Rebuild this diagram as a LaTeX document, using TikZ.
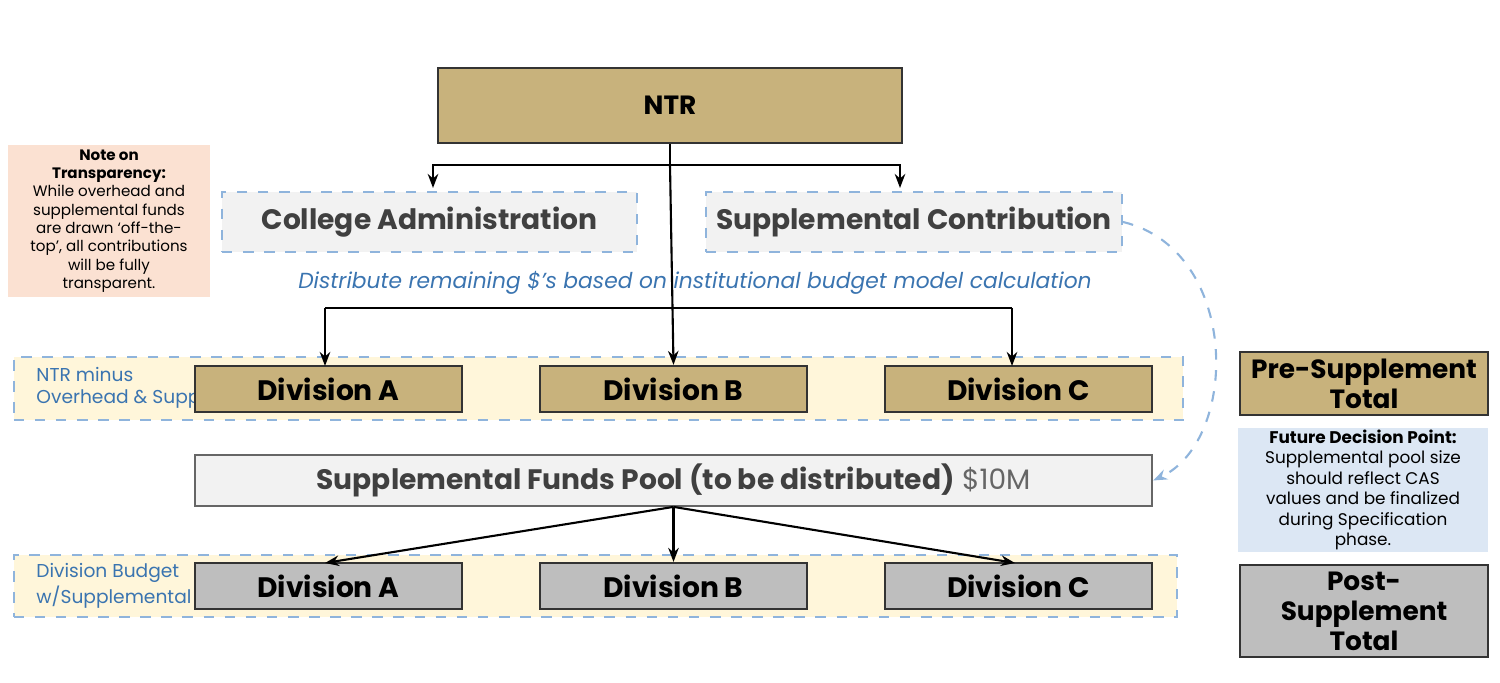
\documentclass[tikz,border=0pt]{standalone}
\usepackage{fontspec}
\setmainfont{Poppins}
\usepackage{tikz}
\usetikzlibrary{arrows.meta}
\definecolor{tan}{HTML}{C8B27C}
\definecolor{grayfill}{HTML}{BEBEBE}
\definecolor{lightfill}{HTML}{F2F2F2}
\definecolor{band}{HTML}{FFF6DA}
\definecolor{peach}{HTML}{FBE1D2}
\definecolor{paleblue}{HTML}{DCE7F4}
\definecolor{dashblue}{HTML}{8FB4DC}
\definecolor{textblue}{HTML}{3A74B0}
\tikzset{
	solidbox/.style={draw=black!80,line width=0.6pt,inner sep=0pt,font=\bfseries\color{black!75}},
	dashbox/.style={draw=dashblue,dashed,line width=0.5pt,fill=lightfill,inner sep=0pt,font=\bfseries\fontsize{8}{9}\selectfont\color{black!75}},
	bandbox/.style={draw=dashblue,dashed,line width=0.5pt,fill=band,inner sep=0pt},
	arr/.style={-{Stealth[length=4pt,width=3pt]},line width=0.6pt}
}
\begin{document}
\begin{tikzpicture}[x=0.01cm,y=-0.01cm]
	\useasboundingbox (0,0) rectangle (1500,683);
	
	% top
	\node[solidbox,fill=tan,minimum width=4.64cm,minimum height=0.75cm,font=\bfseries\fontsize{7.5}{9}\selectfont] (ntr) at (670,105.5) {NTR};
	\node[dashbox,minimum width=4.15cm,minimum height=0.6cm] (admin) at (429.5,222) {College Administration};
	\node[dashbox,minimum width=4.16cm,minimum height=0.6cm] (supp) at (914,222) {Supplemental Contribution};
	\node[fill=peach,minimum width=2.02cm,minimum height=1.52cm,inner sep=0pt,align=center,font=\fontsize{4.3}{5.2}\selectfont] (note) at (109,221)
		{\textbf{Note on}\\\textbf{Transparency:}\\While overhead and\\supplemental funds\\are drawn `off-the-\\top', all contributions\\will be fully\\transparent.};
	\node[font=\itshape\fontsize{6.2}{7}\selectfont,text=textblue] (dist) at (695,283) {Distribute remaining \$'s based on institutional budget model calculation};
	
	% bands
	\node[bandbox,minimum width=11.69cm,minimum height=0.63cm] (band1) at (598.5,388.5) {};
	\node[bandbox,minimum width=11.63cm,minimum height=0.62cm] (band2) at (595.5,586) {};
	\node[anchor=west,align=left,font=\fontsize{5.3}{6.3}\selectfont,text=textblue] (lab1) at (24,388) {NTR minus\\Overhead \& Supp};
	\node[anchor=west,align=left,font=\fontsize{5.3}{6.3}\selectfont,text=textblue] (lab2) at (24,586) {Division Budget\\w/Supplemental};
	
	% divisions
	\foreach \n/\x/\t in {a/328.5/A,b/673.5/B,c/1018.5/C}{
		\node[solidbox,fill=tan,minimum width=2.67cm,minimum height=0.46cm,font=\bfseries\fontsize{8}{9}\selectfont] (pre\n) at (\x,389) {Division \t};
		\node[solidbox,fill=grayfill,minimum width=2.67cm,minimum height=0.46cm,font=\bfseries\fontsize{8}{9}\selectfont] (post\n) at (\x,586) {Division \t};
	}
	
	% pool
	\node[draw=black!60,line width=0.5pt,fill=lightfill,minimum width=9.57cm,minimum height=0.51cm,inner sep=0pt,font=\fontsize{8}{9}\selectfont] (pool) at (673.5,480.5)
		{\textbf{\color{black!75}Supplemental Funds Pool (to be distributed)} \color{black!60}\$10M};
	
	% arrows from NTR
	\coordinate (split) at (670,165);
	\draw[line width=0.6pt] (ntr.south) -- (split);
	\draw[arr] (split) -| (433,188);
	\draw[arr] (split) -| (900,188);
	\draw[arr] (split) -- (preb.north);
	\draw[line width=0.6pt] (325,308) -- (1012,308);
	\draw[arr] (325,308) -- (325,366);
	\draw[arr] (1012,308) -- (1012,366);
	
	% arrows from pool
	\draw[arr] (pool.south) -- (325,563);
	\draw[arr] (pool.south) -- (postb.north);
	\draw[arr] (pool.south) -- (1015,563);
	
	% supplemental flow
	\draw[-{Stealth[length=4pt,width=3pt]},dashed,draw=dashblue,line width=0.6pt] (supp.east) .. controls (1240,250) and (1240,440) .. (pool.east);
	
	% legend
	\node[solidbox,fill=tan,minimum width=2.48cm,minimum height=0.63cm,align=center,font=\bfseries\fontsize{7.5}{8.5}\selectfont] (legpre) at (1364,383.5) {Pre-Supplement\\Total};
	\node[fill=paleblue,minimum width=2.5cm,minimum height=1.24cm,inner sep=0pt,align=center,font=\fontsize{4.8}{5.8}\selectfont] (legnote) at (1363,490)
		{\textbf{Future Decision Point:}\\Supplemental pool size\\should reflect CAS\\values and be finalized\\during Specification\\phase.};
	\node[solidbox,fill=grayfill,minimum width=2.48cm,minimum height=0.92cm,align=center,font=\bfseries\fontsize{7.5}{8.5}\selectfont] (legpost) at (1364,611) {Post-\\Supplement\\Total};
\end{tikzpicture}
\end{document}
